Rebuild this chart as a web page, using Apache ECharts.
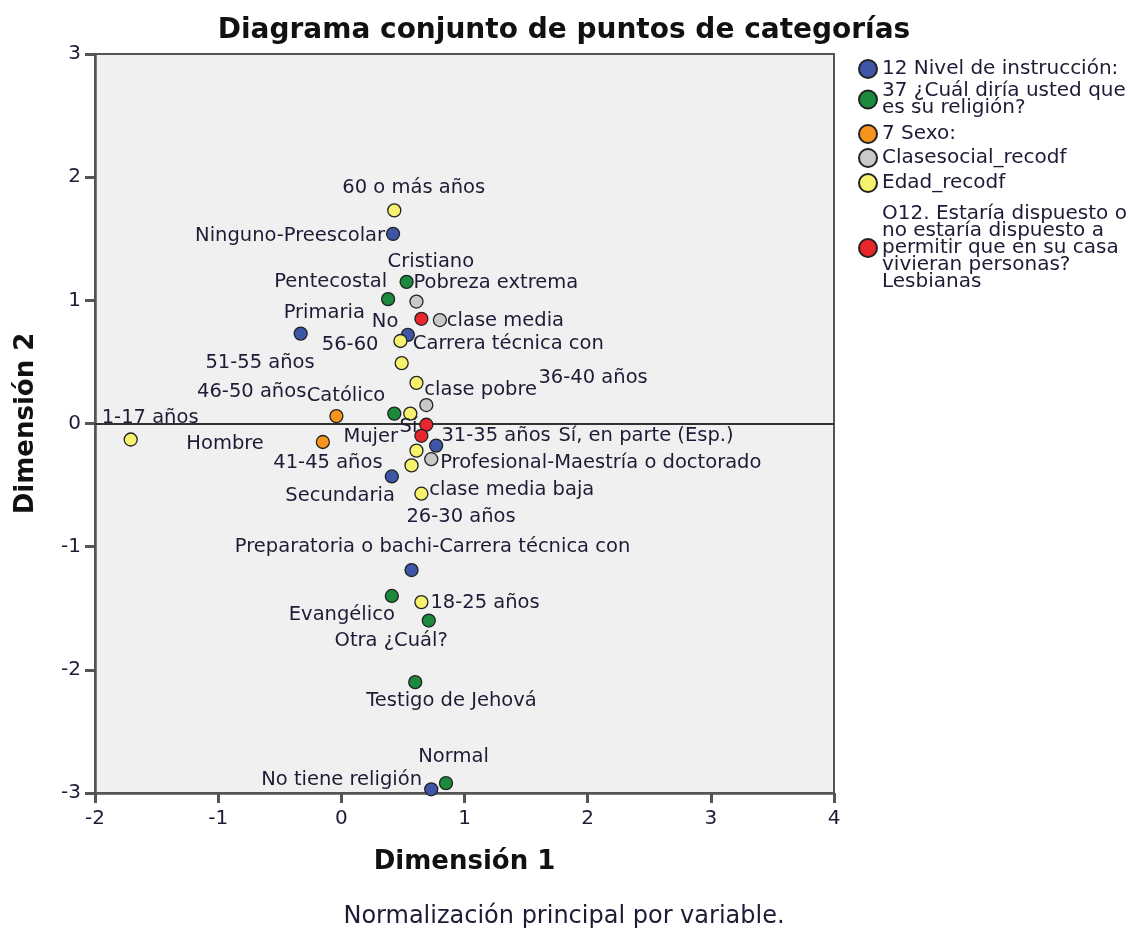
<!DOCTYPE html>
<html>
<head>
<meta charset="utf-8">
<script src="https://cdn.jsdelivr.net/npm/echarts@6/dist/echarts.min.js"></script>
<style>
html,body{margin:0;padding:0;background:#ffffff;}
#chart{width:1128px;height:931px;}
</style>
</head>
<body>
<div id="chart"></div>
<script>
// ---------------- DATA ----------------
const xTickValues = [-2, -1, 0, 1, 2, 3, 4];
const yTickValues = [-3, -2, -1, 0, 1, 2, 3];

const seriesNames = [
  '12 Nivel de instrucción:',
  '37 ¿Cuál diría usted que es su religión?',
  '7 Sexo:',
  'Clasesocial_recodf',
  'Edad_recodf',
  'O12. Estaría dispuesto o no estaría dispuesto a permitir que en su casa vivieran personas? Lesbianas'
];

const instruccionLabels = ['Ninguno-Preescolar', 'Primaria', 'Secundaria', 'Preparatoria o bachi-Carrera técnica con', 'Carrera técnica con', 'Profesional-Maestría o doctorado', 'Normal'];
const instruccionPoints = [[0.42, 1.54], [-0.33, 0.73], [0.41, -0.43], [0.57, -1.19], [0.54, 0.72], [0.77, -0.18], [0.73, -2.97]];

const religionLabels = ['Cristiano', 'Pentecostal', 'Católico', 'Evangélico', 'Otra ¿Cuál?', 'Testigo de Jehová', 'No tiene religión'];
const religionPoints = [[0.53, 1.15], [0.38, 1.01], [0.43, 0.08], [0.41, -1.40], [0.71, -1.60], [0.60, -2.10], [0.85, -2.92]];

const sexoLabels = ['Hombre', 'Mujer'];
const sexoPoints = [[-0.15, -0.15], [-0.04, 0.06]];

const claseLabels = ['Pobreza extrema', 'clase media', 'clase pobre', 'clase media baja'];
const clasePoints = [[0.61, 0.99], [0.80, 0.84], [0.69, 0.15], [0.73, -0.29]];

const edadLabels = ['60 o más años', '56-60', '51-55 años', '36-40 años', '46-50 años', '31-35 años', '41-45 años', '26-30 años', '18-25 años', '1-17 años'];
const edadPoints = [[0.43, 1.73], [0.48, 0.67], [0.49, 0.49], [0.61, 0.33], [0.56, 0.08], [0.61, -0.22], [0.57, -0.34], [0.65, -0.57], [0.65, -1.45], [-1.71, -0.13]];

const lesbianasLabels = ['No', 'Sí', 'Sí, en parte (Esp.)'];
const lesbianasPoints = [[0.65, 0.85], [0.69, -0.01], [0.65, -0.10]];

// ---------------- LAYOUT / STYLE ----------------
const FONT = 'DejaVu Sans';
const TEXT_COLOR = '#1c1c36';
const colors = ['#3d57a6', '#1b8a3c', '#f7941e', '#c9c9c9', '#f6f26e', '#e8262d'];

// label anchor offset from point centre [dx, dy, align]
const labelPlacement = {
  'Ninguno-Preescolar': [-8, 2, 'right'],
  'Primaria': [-17, -21, 'left'],
  'Carrera técnica con': [5, 9, 'left'],
  'Profesional-Maestría o doctorado': [4, 17, 'left'],
  'Secundaria': [3, 19, 'right'],
  'Preparatoria o bachi-Carrera técnica con': [21, -23, 'center'],
  'Normal': [-13, -32, 'left'],
  'Cristiano': [-19, -20, 'left'],
  'Pentecostal': [-1, -17, 'right'],
  'Católico': [-9, -18, 'right'],
  'Evangélico': [3, 19, 'right'],
  'Otra ¿Cuál?': [19, 20, 'right'],
  'Testigo de Jehová': [-49, 19, 'left'],
  'No tiene religión': [-24, -3, 'right'],
  'Hombre': [-59, 2, 'right'],
  'Mujer': [7, 21, 'left'],
  'Pobreza extrema': [-3, -19, 'left'],
  'clase media': [7, 1, 'left'],
  'clase pobre': [-2, -15, 'left'],
  'clase media baja': [-2, 31, 'left'],
  '60 o más años': [-52, -22, 'left'],
  '56-60': [-22, 4, 'right'],
  '51-55 años': [-87, 0, 'right'],
  '36-40 años': [122, -5, 'left'],
  '46-50 años': [-104, -22, 'right'],
  '31-35 años': [25, -15, 'left'],
  '41-45 años': [-29, -2, 'right'],
  '26-30 años': [-15, 23, 'left'],
  '18-25 años': [9, 1, 'left'],
  '1-17 años': [-29, -22, 'left'],
  'No': [-23, 3, 'right'],
  'Sí': [-9, 2, 'right'],
  'Sí, en parte (Esp.)': [137, 0, 'left']
};

const legendText = {
  '37 ¿Cuál diría usted que es su religión?': '37 ¿Cuál diría usted que\nes su religión?',
  'O12. Estaría dispuesto o no estaría dispuesto a permitir que en su casa vivieran personas? Lesbianas':
    'O12. Estaría dispuesto o\nno estaría dispuesto a\npermitir que en su casa\nvivieran personas?\nLesbianas'
};
// top of each legend entry (px)
const legendTops = [59, 81, 124, 148, 173, 204];

function makeSeries(name, labels, points, color) {
  return {
    type: 'scatter',
    name: name,
    symbol: 'circle',
    symbolSize: 13,
    z: 3,
    itemStyle: { color: color, borderColor: '#222222', borderWidth: 1.3, opacity: 1 },
    label: {
      show: true,
      position: 'inside',
      formatter: function (p) { return p.name; },
      color: TEXT_COLOR,
      fontSize: 19.5,
      fontFamily: FONT,
      verticalAlign: 'middle',
      textBorderWidth: 0
    },
    emphasis: { disabled: true },
    data: points.map(function (pt, i) {
      const pl = labelPlacement[labels[i]] || [0, -16, 'center'];
      return { name: labels[i], value: pt, label: { offset: [pl[0], pl[1]], align: pl[2] } };
    })
  };
}

function makeLegend(name, top) {
  return {
    data: [name],
    orient: 'vertical', left: 858, top: top, padding: 0,
    icon: 'circle', itemWidth: 18, itemHeight: 18, itemGap: 0,
    selectedMode: false,
    formatter: function (n) { return legendText[n] || n; },
    textStyle: { fontFamily: FONT, fontSize: 20, lineHeight: 17, color: TEXT_COLOR }
  };
}

const axisLineStyle = { color: '#555555', width: 2.5 };

const option = {
  backgroundColor: '#ffffff',
  animation: false,
  title: [
    {
      text: 'Diagrama conjunto de puntos de categorías',
      left: 'center', top: 17, padding: 0,
      textStyle: { fontFamily: FONT, fontSize: 28, fontWeight: 'bold', color: '#111111' }
    },
    {
      text: 'Normalización principal por variable.',
      left: 'center', top: 905, padding: 0,
      textStyle: { fontFamily: FONT, fontSize: 24, fontWeight: 'normal', color: TEXT_COLOR }
    }
  ],
  grid: {
    left: 95, top: 54, right: 294, bottom: 138,
    show: true, backgroundColor: '#f0f0f0', borderColor: '#555555', borderWidth: 2,
    containLabel: false
  },
  legend: seriesNames.map(function (n, i) { return makeLegend(n, legendTops[i]); }),
  xAxis: {
    type: 'value',
    min: xTickValues[0], max: xTickValues[xTickValues.length - 1], interval: 1,
    name: 'Dimensión 1', nameLocation: 'middle', nameGap: 56,
    nameTextStyle: { fontFamily: FONT, fontSize: 26, fontWeight: 'bold', color: '#111111' },
    axisLine: { show: true, onZero: false, lineStyle: axisLineStyle },
    axisTick: { show: true, length: 10, lineStyle: { color: '#555555', width: 3 } },
    axisLabel: { fontFamily: FONT, fontSize: 20, color: TEXT_COLOR, margin: 16 },
    splitLine: { show: false }
  },
  yAxis: {
    type: 'value',
    min: yTickValues[0], max: yTickValues[yTickValues.length - 1], interval: 1,
    name: 'Dimensión 2', nameLocation: 'middle', nameGap: 56,
    nameTextStyle: { fontFamily: FONT, fontSize: 26, fontWeight: 'bold', color: '#111111' },
    axisLine: { show: true, onZero: false, lineStyle: axisLineStyle },
    axisTick: { show: true, length: 10, lineStyle: { color: '#555555', width: 3 } },
    axisLabel: { fontFamily: FONT, fontSize: 20, color: TEXT_COLOR, margin: 14 },
    splitLine: { show: false }
  },
  series: [
    {
      type: 'scatter', name: 'ref', data: [], z: 1, silent: true,
      markLine: {
        silent: true, symbol: ['none', 'none'], z: 1,
        label: { show: false },
        lineStyle: { color: '#333333', width: 2, type: 'solid' },
        emphasis: { disabled: true },
        data: [{ yAxis: 0 }]
      }
    },
    makeSeries(seriesNames[0], instruccionLabels, instruccionPoints, colors[0]),
    makeSeries(seriesNames[1], religionLabels, religionPoints, colors[1]),
    makeSeries(seriesNames[2], sexoLabels, sexoPoints, colors[2]),
    makeSeries(seriesNames[3], claseLabels, clasePoints, colors[3]),
    makeSeries(seriesNames[4], edadLabels, edadPoints, colors[4]),
    makeSeries(seriesNames[5], lesbianasLabels, lesbianasPoints, colors[5])
  ]
};

const chart = echarts.init(document.getElementById('chart'), null, { renderer: 'canvas' });
chart.setOption(option);
</script>
</body>
</html>
